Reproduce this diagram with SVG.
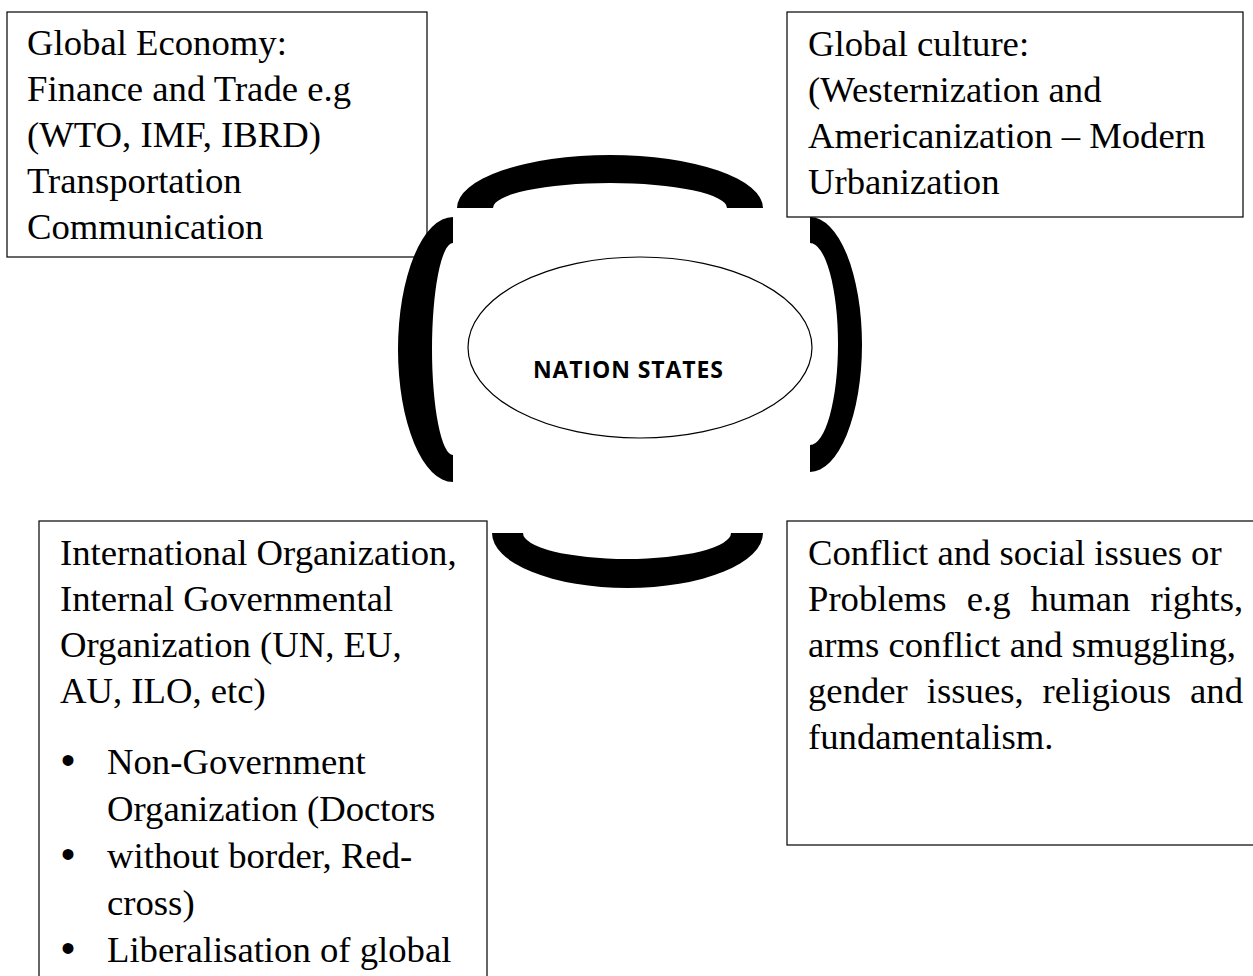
<svg xmlns="http://www.w3.org/2000/svg" width="1253" height="976" viewBox="0 0 1253 976">
  <style>
    .box { fill: #ffffff; stroke: #000000; stroke-width: 1.2; }
    .t { font-family: "Liberation Serif", "Times New Roman", serif; font-size: 36.7px; fill: #000000; }
    .bul { font-family: "Liberation Sans", Arial, sans-serif; font-size: 40px; fill: #000000; }
    .arc { fill: #000000; stroke: none; }
    .core { fill: #ffffff; stroke: #000000; stroke-width: 1.2; }
    .core-t { font-family: "Open Sans", "Liberation Sans", sans-serif; font-weight: bold; font-size: 23px; fill: #000000; }
  </style>
  <rect x="0" y="0" width="1253" height="976" fill="#ffffff"/>

  <g id="global-economy">
    <rect class="box" x="7" y="12" width="420" height="245"/>
    <text class="t">
      <tspan x="27" y="55">Global Economy:</tspan>
      <tspan x="27" y="101">Finance and Trade e.g</tspan>
      <tspan x="27" y="147">(WTO, IMF, IBRD)</tspan>
      <tspan x="27" y="193">Transportation</tspan>
      <tspan x="27" y="239">Communication</tspan>
    </text>
  </g>

  <g id="global-culture">
    <rect class="box" x="787" y="12" width="456" height="205"/>
    <text class="t">
      <tspan x="808" y="56">Global culture:</tspan>
      <tspan x="808" y="102">(Westernization and</tspan>
      <tspan x="808" y="148">Americanization – Modern</tspan>
      <tspan x="808" y="194">Urbanization</tspan>
    </text>
  </g>

  <g id="international-organization">
    <rect class="box" x="39" y="521" width="448" height="470"/>
    <text class="t">
      <tspan x="60" y="565">International Organization,</tspan>
      <tspan x="60" y="611">Internal Governmental</tspan>
      <tspan x="60" y="657">Organization (UN, EU,</tspan>
      <tspan x="60" y="703">AU, ILO, etc)</tspan>
      <tspan x="107" y="774">Non-Government</tspan>
      <tspan x="107" y="821">Organization (Doctors</tspan>
      <tspan x="107" y="868">without border, Red-</tspan>
      <tspan x="107" y="915">cross)</tspan>
      <tspan x="107" y="962">Liberalisation of global</tspan>
    </text>
    <text class="bul">
      <tspan x="61" y="774">•</tspan>
      <tspan x="61" y="868">•</tspan>
      <tspan x="61" y="962">•</tspan>
    </text>
  </g>

  <g id="conflict-issues">
    <rect class="box" x="787" y="521" width="500" height="324"/>
    <text class="t">
      <tspan x="808" y="565">Conflict and social issues or</tspan>
      <tspan x="808" y="611">Problems</tspan><tspan x="966.7" y="611">e.g</tspan><tspan x="1030.5" y="611">human</tspan><tspan x="1150.4" y="611">rights,</tspan>
      <tspan x="808" y="657">arms conflict and smuggling,</tspan>
      <tspan x="808" y="703">gender</tspan><tspan x="926.8" y="703">issues,</tspan><tspan x="1042.6" y="703">religious</tspan><tspan x="1190" y="703">and</tspan>
      <tspan x="808" y="749">fundamentalism.</tspan>
    </text>
  </g>

  <g id="nation-states">
    <ellipse class="core" cx="640" cy="347.5" rx="172" ry="90.5"/>
    <text class="core-t" x="628" y="378" text-anchor="middle" textLength="190" lengthAdjust="spacing">NATION STATES</text>
  </g>

  <g id="connectors">
    <path class="arc" d="M457,208 A153,53 0 0 1 763,208 L727,208 A117,25 0 0 0 493,208 Z"/>
    <path class="arc" d="M492,533 A135.5,55 0 0 0 763,533 L731,533 A104,26 0 0 1 523,533 Z"/>
    <path class="arc" d="M453,217 A55,132.5 0 0 0 453,482 L453,455 A21,106 0 0 1 453,243 Z"/>
    <path class="arc" d="M810,217 A52,127.5 0 0 1 810,472 L810,445 A28,101 0 0 0 810,243 Z"/>
  </g>
</svg>
